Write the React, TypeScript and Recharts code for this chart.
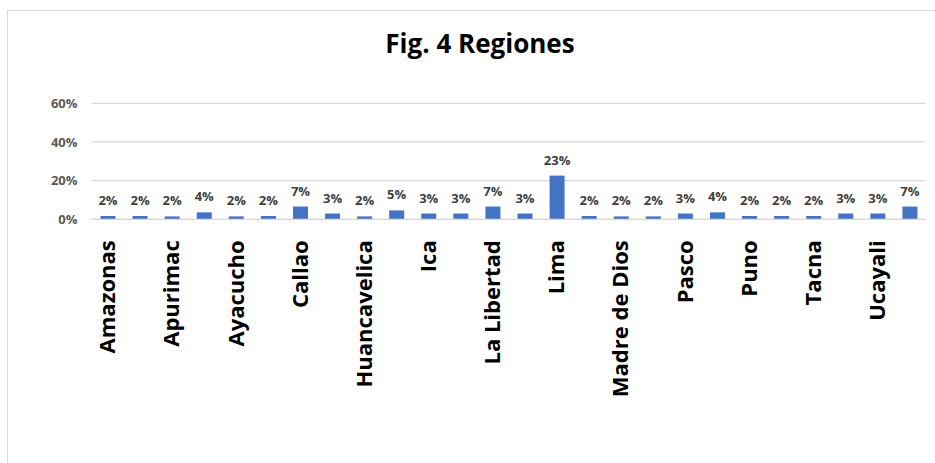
import { Bar, BarChart, CartesianGrid, LabelList, XAxis, YAxis } from "recharts";

const regions = [
  "Amazonas", "Ancash", "Apurimac", "Arequipa", "Ayacucho", "Cajamarca",
  "Callao", "Cusco", "Huancavelica", "Huanuco", "Ica", "Junin",
  "La Libertad", "Lambayeque", "Lima", "Loreto", "Madre de Dios", "Moquegua",
  "Pasco", "Piura", "Puno", "San Martin", "Tacna", "Tumbes",
  "Ucayali", "Extranjero",
];

// share of total, in percent
const shares = [
  1.7, 1.7, 1.5, 3.6, 1.5, 1.7,
  6.6, 3.0, 1.5, 4.6, 3.0, 3.0,
  6.6, 3.0, 22.6, 1.7, 1.5, 1.5,
  3.0, 3.6, 1.7, 1.7, 1.7, 3.0,
  3.0, 6.6,
];

const yTicks = [0, 20, 40, 60];

const data = regions.map((region, i) => ({ region, share: shares[i] }));

const font = "'Open Sans', sans-serif";

const RegionTick = (props: any) => {
  const { x, y, payload } = props;
  return (
    <g transform={`translate(${x},${y + 21})`}>
      <text
        transform="rotate(-90)"
        textAnchor="end"
        dy="0.35em"
        fill="#000"
        fontSize={22}
        fontWeight={700}
        fontFamily={font}
      >
        {payload.value}
      </text>
    </g>
  );
};

export default function App() {
  return (
    <div
      style={{
        position: "absolute",
        left: 0,
        top: 0,
        width: 935,
        height: 463,
        background: "#fff",
        overflow: "hidden",
        fontFamily: font,
      }}
    >
      <div
        style={{
          position: "absolute",
          left: 7,
          top: 10,
          width: 960,
          height: 500,
          border: "1.5px solid #d9d9d9",
        }}
      />
      <div
        style={{
          position: "absolute",
          left: 330,
          top: 30,
          width: 300,
          textAlign: "center",
          fontSize: 26,
          lineHeight: "26px",
          fontWeight: 700,
          color: "#000",
        }}
      >
        Fig. 4 Regiones
      </div>
      <div style={{ position: "absolute", left: 0, top: 0 }}>
        <BarChart
          width={935}
          height={463}
          data={data}
          margin={{ top: 103.3, right: 9.5, bottom: 43.7, left: 41.5 }}
        >
          <CartesianGrid vertical={false} stroke="#d9d9d9" strokeWidth={1.2} />
          <XAxis
            dataKey="region"
            interval={1}
            height={200}
            tickLine={false}
            tickSize={0}
            tickMargin={0}
            axisLine={{ stroke: "#d9d9d9", strokeWidth: 1.2 }}
            tick={<RegionTick />}
          />
          <YAxis
            width={50}
            domain={[0, 60]}
            ticks={yTicks}
            tickFormatter={(v) => `${v}%`}
            axisLine={false}
            tickLine={false}
            tickSize={0}
            tickMargin={14}
            tick={{ fill: "#595959", fontSize: 13, fontWeight: 700, fontFamily: font }}
          />
          <Bar dataKey="share" fill="#4472c4" barSize={15} isAnimationActive={false}>
            <LabelList
              dataKey="share"
              position="top"
              offset={11}
              formatter={(v: any) => `${Math.round(Number(v))}%`}
              style={{ fill: "#404040", fontSize: 13, fontWeight: 700, fontFamily: font }}
            />
          </Bar>
        </BarChart>
      </div>
    </div>
  );
}
